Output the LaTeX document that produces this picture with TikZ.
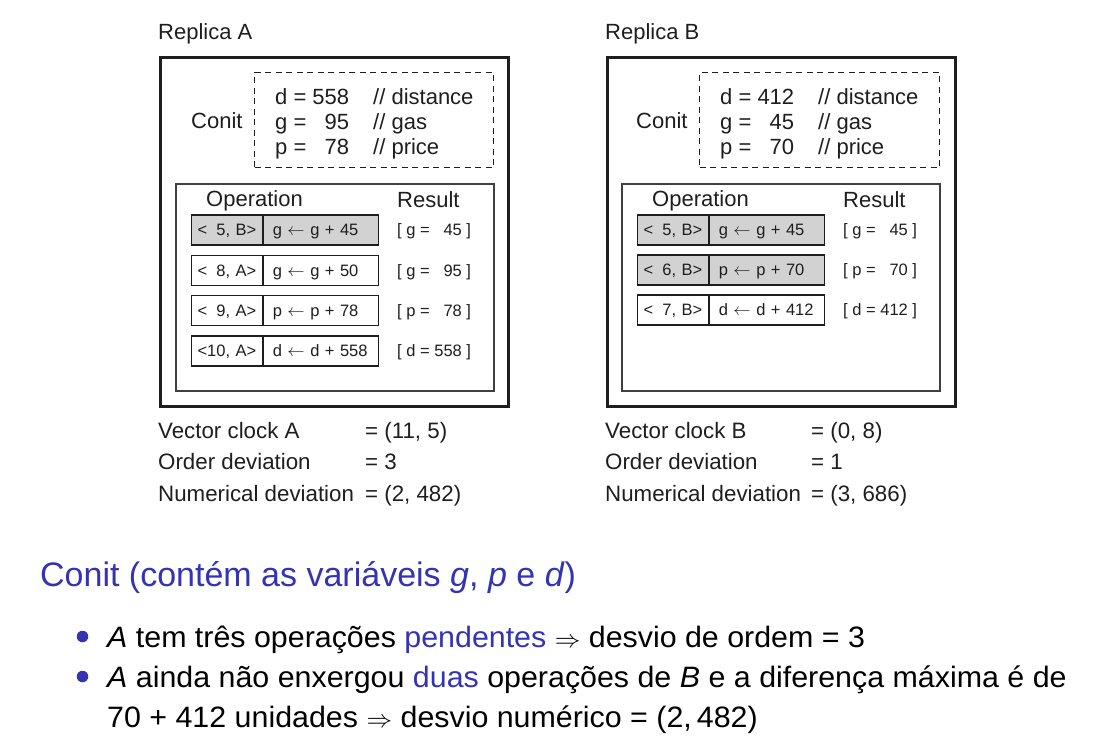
\documentclass[tikz,border=0pt]{standalone}
\usepackage{fontspec}
\setmainfont{Liberation Sans}
\usepackage{array}
\definecolor{sblue}{RGB}{51,51,179}
\definecolor{ink}{RGB}{30,30,30}
\definecolor{shade}{RGB}{210,210,210}

\newcommand{\labelfont}{\fontsize{22}{25}\selectfont}
\newcommand{\rowfont}{\fontsize{16.5}{18}\selectfont}
\newcommand{\itemline}[1]{\scalebox{1.03}[1]{#1}}

\begin{document}
\begin{tikzpicture}[x=1pt,y=-1pt,
  replica/.style={draw=ink, line width=3pt, inner sep=0pt, anchor=north west},
  conitbox/.style={draw=ink, line width=1.4pt, dash pattern=on 6pt off 4.5pt, inner sep=0pt, anchor=north west},
  opframe/.style={draw=ink!85, line width=1.5pt, inner sep=0pt, anchor=north west},
  cell/.style={draw=ink, line width=1.2pt, inner ysep=0pt, minimum height=30pt,
    text height=11.8pt, text depth=0pt, align=left, anchor=west, font=\rowfont, text=ink},
  idcell/.style={cell, inner xsep=6pt, text width=59pt},
  opcell/.style={cell, inner xsep=9pt, text width=97pt},
  pending/.style={fill=shade},
  result/.style={inner sep=0pt, anchor=west, text height=11.8pt, text depth=0pt, font=\rowfont, text=ink},
  txt/.style={inner sep=0pt, anchor=base west, font=\labelfont, text=ink},
  bigtxt/.style={inner sep=0pt, anchor=base west, font=\fontsize{34}{36}\selectfont},
  itemtxt/.style={inner sep=0pt, anchor=base west, font=\fontsize{29.5}{32}\selectfont},
  ball/.style={circle, fill=sblue, inner sep=0pt, minimum size=11.5pt}
]
\useasboundingbox (0,0) rectangle (1107,746);

% ---------------- Replica A ----------------
\node[txt] (titleA) at (158,40) {Replica A};
\node[replica, minimum width=348pt, minimum height=349pt] (repA) at (159,56) {};
\node[conitbox, minimum width=239pt, minimum height=95pt] (cboxA) at (254,72) {};
\node[txt] (conitA) at (191,129) {Conit};
\node[txt] (varsA) at (275,105) {\begin{tabular}[t]{@{}l@{ = }r@{\hspace{24pt}}l@{}}
d & 558 & // distance\\
g & 95 & // gas\\
p & 78 & // price
\end{tabular}};
\node[opframe, minimum width=318pt, minimum height=207pt] (opsA) at (175,183) {};
\node[txt] (ophA) at (206,206) {Operation};
\node[txt] (reshA) at (397,207) {Result};

\node[idcell, pending] (a1) at (191,230) {<\phantom{1}5, B>};
\node[opcell, pending] (a1o) at (a1.east) {g $\leftarrow$ g + 45};
\node[result] (a1r) at (397,230) {[ g = \phantom{5}45 ]};

\node[idcell] (a2) at (191,270.5) {<\phantom{1}8, A>};
\node[opcell] (a2o) at (a2.east) {g $\leftarrow$ g + 50};
\node[result] (a2r) at (397,270.5) {[ g = \phantom{5}95 ]};

\node[idcell] (a3) at (191,310.5) {<\phantom{1}9, A>};
\node[opcell] (a3o) at (a3.east) {p $\leftarrow$ p + 78};
\node[result] (a3r) at (397,310.5) {[ p = \phantom{5}78 ]};

\node[idcell] (a4) at (191,351) {<10, A>};
\node[opcell] (a4o) at (a4.east) {d $\leftarrow$ d + 558};
\node[result] (a4r) at (397,351) {[ d = 558 ]};

\node[txt, font=\fontsize{22.3}{31.5}\selectfont] (statsA) at (158,438) {\begin{tabular}[t]{@{}p{207pt}@{}l@{}}
Vector clock A & = (11, 5)\\
Order deviation & = 3\\
Numerical deviation & = (2, 482)
\end{tabular}};

% ---------------- Replica B ----------------
\node[txt] (titleB) at (605,40) {Replica B};
\node[replica, minimum width=348pt, minimum height=349pt] (repB) at (605.5,56) {};
\node[conitbox, minimum width=240pt, minimum height=95pt] (cboxB) at (699,72) {};
\node[txt] (conitB) at (636,129) {Conit};
\node[txt] (varsB) at (720,105) {\begin{tabular}[t]{@{}l@{ = }r@{\hspace{24pt}}l@{}}
d & 412 & // distance\\
g & 45 & // gas\\
p & 70 & // price
\end{tabular}};
\node[opframe, minimum width=318pt, minimum height=207pt] (opsB) at (621,183) {};
\node[txt] (ophB) at (652,206) {Operation};
\node[txt] (reshB) at (843,207) {Result};

\node[idcell, pending] (b1) at (637,230) {<\phantom{1}5, B>};
\node[opcell, pending] (b1o) at (b1.east) {g $\leftarrow$ g + 45};
\node[result] (b1r) at (843,230) {[ g = \phantom{5}45 ]};

\node[idcell, pending] (b2) at (637,270) {<\phantom{1}6, B>};
\node[opcell, pending] (b2o) at (b2.east) {p $\leftarrow$ p + 70};
\node[result] (b2r) at (843,270) {[ p = \phantom{5}70 ]};

\node[idcell] (b3) at (637,310) {<\phantom{1}7, B>};
\node[opcell] (b3o) at (b3.east) {d $\leftarrow$ d + 412};
\node[result] (b3r) at (843,310) {[ d = 412 ]};

\node[txt, font=\fontsize{22.3}{31.5}\selectfont] (statsB) at (605,438) {\begin{tabular}[t]{@{}p{206pt}@{}l@{}}
Vector clock B & = (0, 8)\\
Order deviation & = 1\\
Numerical deviation & = (3, 686)
\end{tabular}};

% ---------------- Explanation ----------------
\node[bigtxt, text=sblue] (head) at (40,586) {Conit (contém as variáveis \textit{g}, \textit{p} e \textit{d})};

\node[ball] (dot1) at (82.5,636.5) {};
\node[itemtxt] (item1) at (107,647) {\itemline{\textit{A} tem três operações \textcolor{sblue}{pendentes} $\Rightarrow$ desvio de ordem = 3}};
\node[ball] (dot2) at (82.5,676.5) {};
\node[itemtxt] (item2) at (107,687) {\itemline{\textit{A} ainda não enxergou \textcolor{sblue}{duas} operações de \textit{B} e a diferença máxima é de}};
\node[itemtxt] (item2b) at (107,727) {\itemline{70 + 412 unidades $\Rightarrow$ desvio numérico = (2,\,482)}};
\end{tikzpicture}
\end{document}
